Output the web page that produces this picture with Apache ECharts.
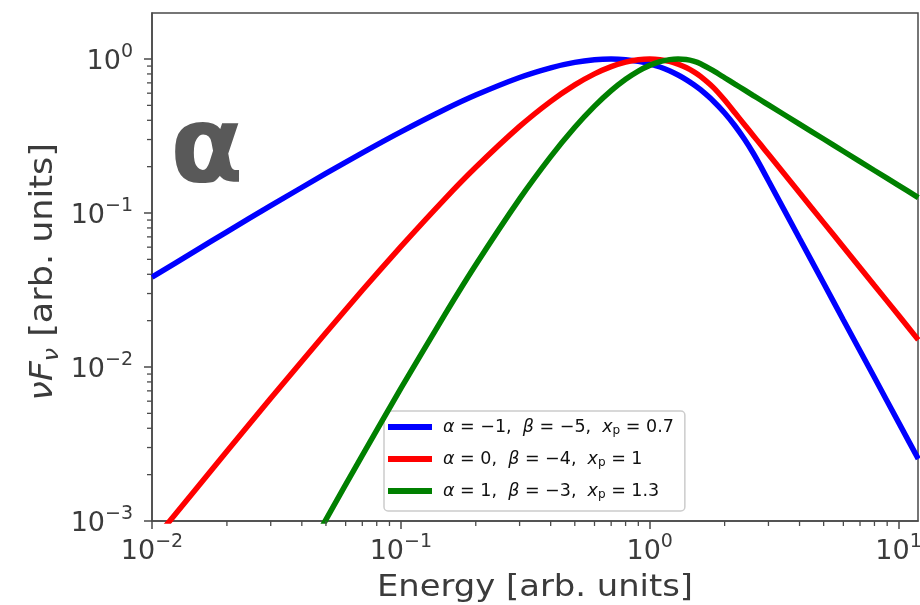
<!DOCTYPE html>
<html>
<head>
<meta charset="utf-8">
<script src="https://cdn.jsdelivr.net/npm/echarts@6/dist/echarts.min.js"></script>
<style>
  html, body { margin: 0; padding: 0; background: #ffffff; }
  #chart { width: 920px; height: 605px; }
</style>
</head>
<body>
<div id="chart"></div>
<script>
// Photon energy grid (arb. units)
const energy = [0.01, 0.015, 0.02, 0.03, 0.05, 0.07, 0.1, 0.15, 0.2, 0.3, 0.4, 0.5, 0.6, 0.7, 0.8, 0.9,
  1.0, 1.1, 1.2, 1.3, 1.4, 1.5, 1.6, 1.8, 2.0, 2.2, 2.4, 2.6, 2.8, 3, 4, 5, 6, 8, 10, 12];

// νFν spectra, each normalised to its peak
const fluxSoft = [0.0383, 0.0570, 0.0755, 0.1116, 0.1808, 0.2460, 0.3366, 0.4701, 0.5836, 0.7589, 0.8772, 0.9505,
  0.9888, 1.0, 0.9907, 0.9662, 0.9306, 0.8874, 0.8392, 0.7881, 0.7358, 0.6834, 0.6319, 0.5343, 0.4461, 0.3687,
  0.3022, 0.2461, 0.1992, 0.1619, 0.0683, 0.0350, 0.0202, 0.00854, 0.00437, 0.00253];
const fluxMid = [0.000724, 0.00161, 0.00284, 0.00626, 0.0167, 0.0315, 0.0605, 0.1232, 0.1981, 0.3650, 0.5312, 0.6796,
  0.8012, 0.8928, 0.9548, 0.9893, 1.0, 0.9907, 0.9653, 0.9275, 0.8807, 0.8277, 0.7711, 0.6542, 0.5413, 0.4474,
  0.3759, 0.3203, 0.2762, 0.2406, 0.1353, 0.0866, 0.0601, 0.0338, 0.0217, 0.0150];
const fluxHard = [0.0000089, 0.0000298, 0.0000698, 0.000230, 0.00102, 0.00267, 0.00726, 0.0218, 0.0461, 0.1235, 0.2325,
  0.3605, 0.4945, 0.6235, 0.7389, 0.8352, 0.9096, 0.9611, 0.9907, 1.0, 0.9916, 0.9683, 0.9329, 0.8397, 0.7557,
  0.6870, 0.6298, 0.5813, 0.5398, 0.5038, 0.3779, 0.3023, 0.2519, 0.1889, 0.1512, 0.1260];

const seriesNames = ['α=-1, β=-5, xp=0.7', 'α=0, β=-4, xp=1', 'α=1, β=-3, xp=1.3'];
const legendLabels = [
  '{i|α}{t| = −1,  }{i|β}{t| = −5,  }{i|x}{s|p}{t| = 0.7}',
  '{i|α}{t| = 0,  }{i|β}{t| = −4,  }{i|x}{s|p}{t| = 1}',
  '{i|α}{t| = 1,  }{i|β}{t| = −3,  }{i|x}{s|p}{t| = 1.3}'
];
const seriesColors = ['#0000ff', '#ff0000', '#008000'];

// Axis ranges and tick positions
const xRange = [0.01, 11.97];
const yRange = [0.001, 1.99];
const xMajorTicks = [0.01, 0.1, 1, 10];
const yMajorTicks = [0.001, 0.01, 0.1, 1];

function minorTicks(decades, lo, hi) {
  const out = [];
  decades.forEach(d => { for (let k = 2; k <= 9; k++) { const v = +(d * k).toPrecision(3); if (v > lo && v < hi) out.push(v); } });
  return out;
}
const xMinorTicks = minorTicks(xMajorTicks, xRange[0], xRange[1]);
const yMinorTicks = minorTicks(yMajorTicks, yRange[0], yRange[1]);

const FONT = 'DejaVu Sans';
const TEXT = '#3b3b3b';
const LINE = '#4a4a4a';
const MINOR_LEN = 5;

function powerLabel(v) {
  const e = Math.round(Math.log10(v));
  return '{b|10}{s|' + (e < 0 ? '−' + (-e) : String(e)) + '}';
}
const tickRich = {
  b: { fontFamily: FONT, fontSize: 27, color: TEXT, lineHeight: 32, verticalAlign: 'bottom' },
  s: { fontFamily: FONT, fontSize: 19, color: TEXT, lineHeight: 20, verticalAlign: 'top' }
};

const chart = echarts.init(document.getElementById('chart'), null, { renderer: 'canvas' });

function logAxis(range, ticks, extra) {
  return Object.assign({
    type: 'log', logBase: 10, min: range[0], max: range[1],
    axisLine: { show: true, lineStyle: { color: LINE, width: 1.5 } },
    axisTick: { show: true, inside: false, length: 8, lineStyle: { color: LINE, width: 1.5 }, customValues: ticks },
    splitLine: { show: false },
    minorTick: { show: false }, minorSplitLine: { show: false }
  }, extra);
}

const curveSeries = [fluxSoft, fluxMid, fluxHard].map((vals, i) => ({
  name: seriesNames[i],
  type: 'line',
  data: energy.map((e, j) => [e, vals[j]]),
  showSymbol: false,
  smooth: 0.2,
  clip: true,
  color: seriesColors[i],
  lineStyle: { color: seriesColors[i], width: 5.5 },
  itemStyle: { color: seriesColors[i] },
  emphasis: { disabled: true },
  z: 2 + i
}));

chart.setOption({
  backgroundColor: '#ffffff',
  animation: false,
  grid: {
    left: 152, right: 2, top: 13, bottom: 84,
    show: true, borderColor: LINE, borderWidth: 1.5, backgroundColor: 'transparent',
    outerBoundsMode: 'none'
  },
  xAxis: logAxis(xRange, xMajorTicks, {
    position: 'bottom',
    axisLabel: { show: true, formatter: powerLabel, rich: tickRich, customValues: xMajorTicks, margin: 12 }
  }),
  yAxis: logAxis(yRange, yMajorTicks, {
    position: 'left',
    axisLabel: { show: true, formatter: powerLabel, rich: tickRich, customValues: yMajorTicks, margin: 19 }
  }),
  legend: {
    orient: 'vertical', left: 384, top: 411,
    data: seriesNames,
    icon: 'rect', itemWidth: 44, itemHeight: 6, itemGap: 12,
    padding: [6, 11, 10, 4],
    backgroundColor: 'rgba(255,255,255,0.8)',
    borderColor: '#cccccc', borderWidth: 1.5, borderRadius: 4,
    selectedMode: false,
    formatter: name => legendLabels[seriesNames.indexOf(name)],
    textStyle: {
      fontFamily: FONT, fontSize: 17.5,
      color: '#111111', lineHeight: 20, padding: [0, 0, 0, 6],
      rich: {
        t: { fontFamily: FONT, fontSize: 17.5, color: '#111111', lineHeight: 20, verticalAlign: 'middle' },
        i: { fontFamily: FONT, fontSize: 17.5, fontStyle: 'italic', color: '#111111', lineHeight: 20, verticalAlign: 'middle' },
        s: { fontFamily: FONT, fontSize: 12, color: '#111111', lineHeight: 12, verticalAlign: 'bottom' }
      }
    }
  },
  series: curveSeries
});

// Panel letter, axis titles and short outward minor ticks (2..9 × each decade)
const graphics = [
  {
    type: 'text', x: 170, y: 153, z: 10,
    style: { text: 'α', font: 'bold 107px "DejaVu Sans"', fill: '#595959', align: 'left', verticalAlign: 'middle' }
  },
  {
    type: 'text', x: 535, y: 588, scaleX: 1.108, z: 10,
    style: { text: 'Energy [arb. units]', font: '30.5px "DejaVu Sans"', fill: TEXT, align: 'center', verticalAlign: 'middle' }
  },
  {
    type: 'text', x: 44, y: 272, rotation: Math.PI / 2, scaleX: 1.077, z: 10,
    style: {
      text: '{i|νF}{sub|ν}{t| [arb. units]}',
      align: 'center', verticalAlign: 'middle',
      rich: {
        i: { fontFamily: FONT, fontSize: 32.5, fontStyle: 'italic', fill: TEXT, lineHeight: 38, verticalAlign: 'middle' },
        sub: { fontFamily: FONT, fontSize: 22, fontStyle: 'italic', fill: TEXT, lineHeight: 25, verticalAlign: 'bottom' },
        t: { fontFamily: FONT, fontSize: 32.5, fill: TEXT, lineHeight: 38, verticalAlign: 'middle' }
      }
    }
  }
];
xMinorTicks.forEach(v => {
  const p = chart.convertToPixel({ gridIndex: 0 }, [v, yRange[0]]);
  graphics.push({ type: 'line', silent: true, z: 5,
    shape: { x1: p[0], y1: p[1], x2: p[0], y2: p[1] + MINOR_LEN },
    style: { stroke: LINE, lineWidth: 1.3 } });
});
yMinorTicks.forEach(v => {
  const p = chart.convertToPixel({ gridIndex: 0 }, [xRange[0], v]);
  graphics.push({ type: 'line', silent: true, z: 5,
    shape: { x1: p[0] - MINOR_LEN, y1: p[1], x2: p[0], y2: p[1] },
    style: { stroke: LINE, lineWidth: 1.3 } });
});
chart.setOption({ graphic: graphics });
</script>
</body>
</html>
